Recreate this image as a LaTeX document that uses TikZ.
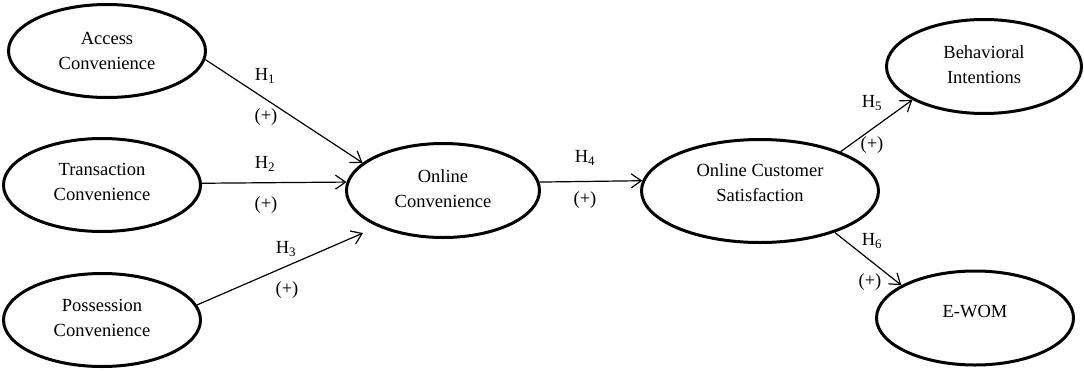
\documentclass[tikz,border=0pt]{standalone}
\usepackage{fontspec}
\setmainfont{Liberation Serif}
\usetikzlibrary{shapes.geometric, arrows.meta}

\begin{document}
\begin{tikzpicture}[x=1pt,y=-1pt,
  every node/.style={font=\fontsize{18.5}{25}\selectfont},
  oval/.style={ellipse, draw, line width=3pt, inner sep=0pt, align=center},
  hyp/.style={line width=1.2pt, -{Straight Barb[length=10pt,width=14pt,line width=1.2pt]}}]
\useasboundingbox (0,0) rectangle (1084,370);
\node[oval, minimum width=197pt, minimum height=93pt] (A1) at (107,51) {Access\\Convenience};
\node[oval, minimum width=197pt, minimum height=93pt, text depth=6pt] (A2) at (102,185) {Transaction\\Convenience};
\node[oval, minimum width=197pt, minimum height=93pt, text depth=4pt] (A3) at (102,320) {Possession\\Convenience};
\node[oval, minimum width=193pt, minimum height=94pt, text depth=4pt] (C1) at (443,190.5) {Online\\Convenience};
\node[oval, minimum width=237pt, minimum height=103pt, text depth=16pt] (C2) at (760,191) {Online Customer\\Satisfaction};
\node[oval, minimum width=195pt, minimum height=94pt, text depth=4pt] (B1) at (984,66.5) {Behavioral\\Intentions};
\node[oval, minimum width=197pt, minimum height=94pt, text depth=14pt] (B2) at (975,318) {E-WOM};

\node (L1) at (265,76) {H\textsubscript{1}};
\node (S1) at (266,117) {(+)};
\node (L2) at (265,164) {H\textsubscript{2}};
\node (S2) at (266,205) {(+)};
\node (L3) at (286,249) {H\textsubscript{3}};
\node (S3) at (287,290) {(+)};
\node (L4) at (585,158) {H\textsubscript{4}};
\node (S4) at (585,200) {(+)};
\node (L5) at (872,103) {H\textsubscript{5}};
\node (S5) at (872,145) {(+)};
\node (L6) at (872,241) {H\textsubscript{6}};
\node (S6) at (870,282) {(+)};

\draw (A1.-5) edge[hyp] (C1.161);
\draw (A2.1) edge[hyp] (C1.175);
\draw (A3.9) edge[hyp, shorten >=16pt] (C1.209);
\draw (C1.5) edge[hyp] (C2.175);
\draw (C2.26) edge[hyp] (B1.205);
\draw (C2.-29) edge[hyp] (B2.156);
\end{tikzpicture}
\end{document}
